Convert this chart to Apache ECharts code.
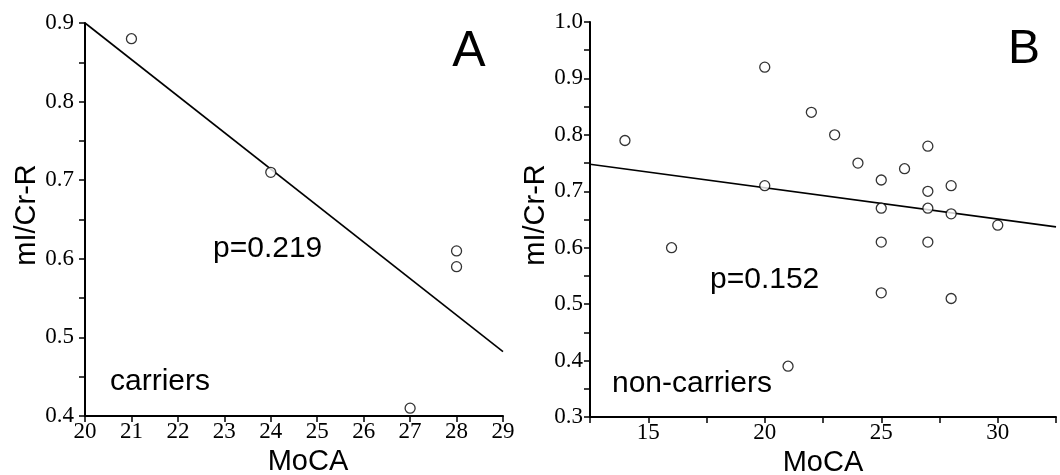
<!DOCTYPE html>
<html>
<head>
<meta charset="utf-8">
<script src="https://cdn.jsdelivr.net/npm/echarts@6/dist/echarts.min.js"></script>
<style>
html,body{margin:0;padding:0;background:#fff;}
#chart{width:1060px;height:475px;}
</style>
</head>
<body>
<div id="chart"></div>
<script>
// Panel A: carriers
const carriersMoCA = [21, 24, 27, 28, 28];
const carriersMI   = [0.88, 0.71, 0.41, 0.61, 0.59];
const fitAx = [20, 29];
const fitAy = [0.900, 0.482];
// Panel B: non-carriers
const nonMoCA = [14, 16, 20, 20, 21, 22, 23, 24, 25, 25, 25, 25, 26, 27, 27, 27, 27, 28, 28, 28, 30];
const nonMI   = [0.79, 0.60, 0.92, 0.71, 0.39, 0.84, 0.80, 0.75, 0.72, 0.67, 0.61, 0.52, 0.74, 0.78, 0.70, 0.67, 0.61, 0.71, 0.66, 0.51, 0.64];
const fitBx = [12.5, 32.5];
const fitBy = [0.748, 0.637];
// Axis ranges / tick labels
const xAxisA = {min: 20, max: 29, interval: 1};
const yAxisA = {min: 0.4, max: 0.9, interval: 0.05};
const xAxisB = {min: 12.5, max: 32.5, interval: 2.5};
const yAxisB = {min: 0.3, max: 1.0, interval: 0.05};
const xTitle = 'MoCA';
const yTitle = 'mI/Cr-R';
const panelLabels = ['A', 'B'];
const pLabels = ['p=0.219', 'p=0.152'];
const groupLabels = ['carriers', 'non-carriers'];

const zip = (a, b) => a.map((v, i) => [v, b[i]]);
const serif = 'Liberation Serif';
const sans = 'Liberation Sans';
const axisLine = {show: true, onZero: false, lineStyle: {color: '#000', width: 2}};

function xAx(idx, r, every, pad) {
  return {
    type: 'value', gridIndex: idx, min: r.min, max: r.max, interval: r.interval,
    axisLine: axisLine,
    axisTick: {show: true, inside: false, length: 6, lineStyle: {color: '#000', width: 1.5}},
    axisLabel: {
      color: '#000', fontFamily: serif, fontSize: 23, margin: 4,
      showMinLabel: true, showMaxLabel: true,
      formatter: v => (Math.abs(v / every - Math.round(v / every)) < 1e-6 ? String(Math.round(v)) : '')
    },
    splitLine: {show: false},
    name: xTitle, nameLocation: 'middle', nameGap: 30,
    nameTextStyle: {color: '#000', fontFamily: sans, fontSize: 29, padding: pad}
  };
}
function yAx(idx, r, margin, gap) {
  return {
    type: 'value', gridIndex: idx, min: r.min, max: r.max, interval: r.interval,
    axisLine: axisLine,
    axisTick: {show: true, inside: false, length: 6, lineStyle: {color: '#000', width: 1.5}},
    axisLabel: {
      color: '#000', fontFamily: serif, fontSize: 23, margin: margin,
      showMinLabel: true, showMaxLabel: true,
      formatter: v => {
        const t = Math.round(v * 100);
        return t % 10 === 0 ? (t / 100).toFixed(1) : '';
      }
    },
    splitLine: {show: false},
    name: yTitle, nameLocation: 'middle', nameGap: gap, nameRotate: 90,
    nameTextStyle: {color: '#000', fontFamily: sans, fontSize: 29, padding: [0, 0, 0, 9]}
  };
}
const scatterStyle = {
  type: 'scatter', symbol: 'circle', symbolSize: 10,
  itemStyle: {color: '#fff', borderColor: '#000', borderWidth: 1.3},
  emphasis: {disabled: true}, z: 3
};
const lineStyle = {
  type: 'line', showSymbol: false, symbol: 'none',
  lineStyle: {color: '#000', width: 1.6}, emphasis: {disabled: true}, z: 2
};
function txt(text, x, y, size, align) {
  return {type: 'text', x: x, y: y, style: {text: text, fill: '#000', font: size + 'px ' + sans, textAlign: align || 'left', textVerticalAlign: 'middle'}};
}

const chart = echarts.init(document.getElementById('chart'), null, {renderer: 'canvas'});
chart.setOption({
  backgroundColor: '#fff',
  animation: false,
  grid: [
    {left: 85, right: 557, top: 23, bottom: 59, containLabel: false, outerBoundsMode: 'none'},
    {left: 590, right: 4, top: 22, bottom: 58, containLabel: false, outerBoundsMode: 'none'}
  ],
  xAxis: [xAx(0, xAxisA, 1, [0, 0, 0, 28]), xAx(1, xAxisB, 5, [0, 0, 0, 0])],
  yAxis: [yAx(0, yAxisA, 11, 43), yAx(1, yAxisB, 7, 36)],
  series: [
    Object.assign({xAxisIndex: 0, yAxisIndex: 0, data: zip(fitAx, fitAy)}, lineStyle),
    Object.assign({xAxisIndex: 0, yAxisIndex: 0, data: zip(carriersMoCA, carriersMI)}, scatterStyle),
    Object.assign({xAxisIndex: 1, yAxisIndex: 1, data: zip(fitBx, fitBy)}, lineStyle),
    Object.assign({xAxisIndex: 1, yAxisIndex: 1, data: zip(nonMoCA, nonMI)}, scatterStyle)
  ],
  graphic: [
    txt(panelLabels[0], 469, 52, 50, 'center'),
    txt(panelLabels[1], 1024, 50, 48, 'center'),
    txt(pLabels[0], 213, 249, 30),
    txt(pLabels[1], 710, 280, 30),
    txt(groupLabels[0], 110, 382, 30),
    txt(groupLabels[1], 612, 384, 30)
  ]
});
</script>
</body>
</html>
